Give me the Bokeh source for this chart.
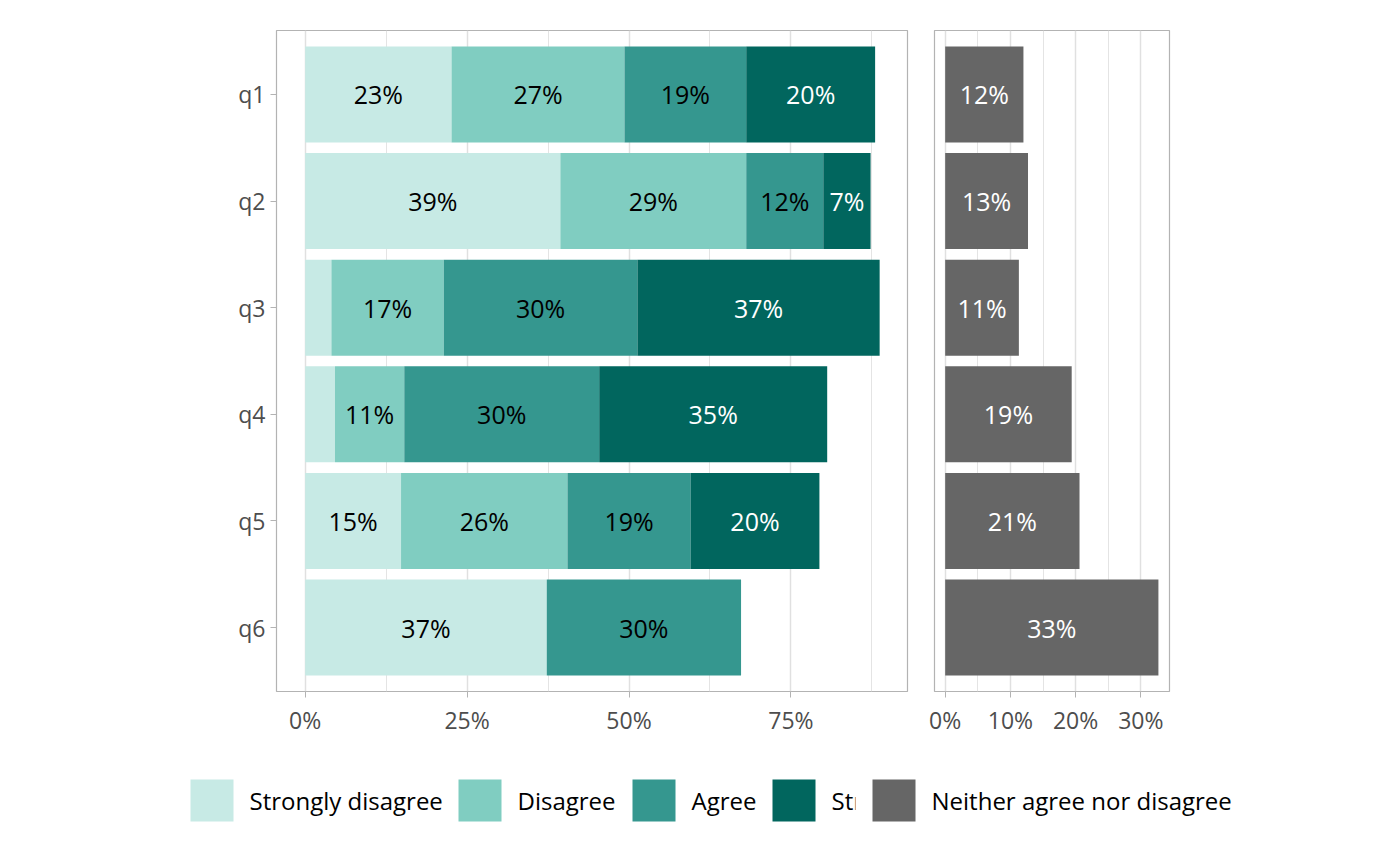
import numpy as np
from bokeh.plotting import figure
from bokeh.layouts import column, row
from bokeh.models import Range1d, FixedTicker, PrintfTickFormatter, ColumnDataSource
from bokeh.embed import file_html
from bokeh.resources import INLINE
from bokeh.core.properties import value

# ---------------- data ----------------
questions = ["q1", "q2", "q3", "q4", "q5", "q6"]
strongly_disagree = [22.6, 39.4, 4.05, 4.6, 14.8, 37.3]
disagree = [26.7, 28.7, 17.35, 10.7, 25.7, 0.0]
agree = [18.8, 11.9, 29.9, 30.1, 19.0, 30.0]
strongly_agree = [19.9, 7.3, 37.4, 35.2, 19.9, 0.0]
neither = [12.0, 12.7, 11.3, 19.4, 20.6, 32.7]
left_ticks = [0, 25, 50, 75]
left_minor = [12.5, 37.5, 62.5, 87.5]
right_ticks = [0, 10, 20, 30]
right_minor = [5, 15, 25]
legend_labels = ["Strongly disagree", "Disagree", "Agree", "Strongly agree",
                 "Neither agree nor disagree"]

# ---------------- style ----------------
colors = ["#C7EAE5", "#80CDC1", "#35978F", "#01665E", "#666666"]
text_colors = ["black", "black", "black", "white", "white"]
FONT = "Open Sans"
LABEL_SIZE = "25px"
AXIS_SIZE = "23px"
LEGEND_SIZE = "24px"
BORDER = "#B3B3B3"
GRID = "#E0E0E0"
GRID_MINOR = "#E4E4E4"

n = len(questions)
ypos = [n - i for i in range(n)]


def fmt(v):
    return f"{int(np.floor(v + 0.5))}%"


def style(p, ticks, minor):
    p.outline_line_color = BORDER
    p.outline_line_width = 1.2
    p.xaxis.ticker = FixedTicker(ticks=ticks, minor_ticks=minor)
    p.xaxis.formatter = PrintfTickFormatter(format="%d%%")
    p.axis.axis_line_color = None
    p.axis.major_tick_line_color = BORDER
    p.axis.major_tick_out = 6
    p.axis.major_tick_in = 0
    p.axis.minor_tick_line_color = None
    p.axis.major_label_text_font = FONT
    p.axis.major_label_text_font_size = AXIS_SIZE
    p.axis.major_label_text_color = "#4D4D4D"
    p.xaxis.major_label_standoff = 6
    p.yaxis.major_label_standoff = 5
    p.xgrid.grid_line_color = GRID
    p.xgrid.grid_line_width = 1.5
    p.xgrid.minor_grid_line_color = GRID_MINOR
    p.xgrid.minor_grid_line_width = 1
    p.ygrid.grid_line_color = None
    p.background_fill_color = "white"
    p.border_fill_color = "white"


TOP, BOTTOM, FH = 30, 59, 661

# ---------------- left panel ----------------
left = figure(frame_width=631, frame_height=FH,
              x_range=Range1d(-4.43, 93.0), y_range=Range1d(0.4, 6.6),
              min_border_left=276, min_border_right=13,
              min_border_top=TOP, min_border_bottom=BOTTOM,
              output_backend="svg", toolbar_location=None)
style(left, left_ticks, left_minor)
left.yaxis.ticker = FixedTicker(ticks=ypos)
left.yaxis.major_label_overrides = {y: q for y, q in zip(ypos, questions)}

series = [strongly_disagree, disagree, agree, strongly_agree]
base = np.zeros(n)
label_data = []
for vals, col, tc in zip(series, colors, text_colors):
    v = np.array(vals, dtype=float)
    keep = v > 0
    src = ColumnDataSource(dict(y=np.array(ypos)[keep], left=base[keep],
                                right=(base + v)[keep]))
    left.hbar(y="y", left="left", right="right", height=0.9,
              fill_color=col, line_color=None, source=src)
    lab = v >= 5
    label_data.append((dict(x=(base + v / 2)[lab], y=np.array(ypos)[lab],
                            t=[fmt(x) for x in v[lab]]), tc))
    base = base + v

for d, tc in label_data:
    left.text(x="x", y="y", text="t", source=ColumnDataSource(d),
              text_align="center", text_baseline="middle",
              text_font=value(FONT), text_font_size=LABEL_SIZE, text_color=tc)

# ---------------- right panel ----------------
right = figure(frame_width=235, frame_height=FH,
               x_range=Range1d(-1.64, 34.4), y_range=Range1d(0.4, 6.6),
               min_border_left=14, min_border_right=200,
               min_border_top=TOP, min_border_bottom=BOTTOM,
               output_backend="svg", toolbar_location=None)
style(right, right_ticks, right_minor)
right.yaxis.visible = False
nv = np.array(neither, dtype=float)
right.hbar(y=ypos, left=0, right=nv, height=0.9, fill_color=colors[4], line_color=None)
right.text(x=nv / 2, y=ypos, text=[fmt(x) for x in nv],
           text_align="center", text_baseline="middle",
           text_font=value(FONT), text_font_size=LABEL_SIZE, text_color=text_colors[4])

# ---------------- legend ----------------
LW, LH = 1369, 100
leg = figure(width=LW, height=LH, x_range=Range1d(0, LW), y_range=Range1d(0, LH),
             x_axis_type=None, y_axis_type=None, min_border=0,
             output_backend="svg", toolbar_location=None)
leg.grid.visible = False
leg.outline_line_color = None
key_left = [190, 458, 632, 772, 872]
KEY_W, KEY_B, KEY_T = 43, 29, 71
TEXT_GAP = 59
for i, (lab, col) in enumerate(zip(legend_labels, colors)):
    if i == len(legend_labels) - 1:
        # background of the last key area hides the overflowing previous label
        leg.quad(left=key_left[i] - 17, right=LW, bottom=0, top=LH,
                 fill_color="white", line_color=None)
    leg.quad(left=key_left[i], right=key_left[i] + KEY_W, bottom=KEY_B, top=KEY_T,
             fill_color=col, line_color=None)
    leg.text(x=[key_left[i] + TEXT_GAP], y=[50], text=[lab],
             text_align="left", text_baseline="middle",
             text_font=value(FONT), text_font_size=LEGEND_SIZE, text_color="black")

layout = column(row(left, right), leg)
open("out.html", "w").write(file_html(layout, INLINE))
